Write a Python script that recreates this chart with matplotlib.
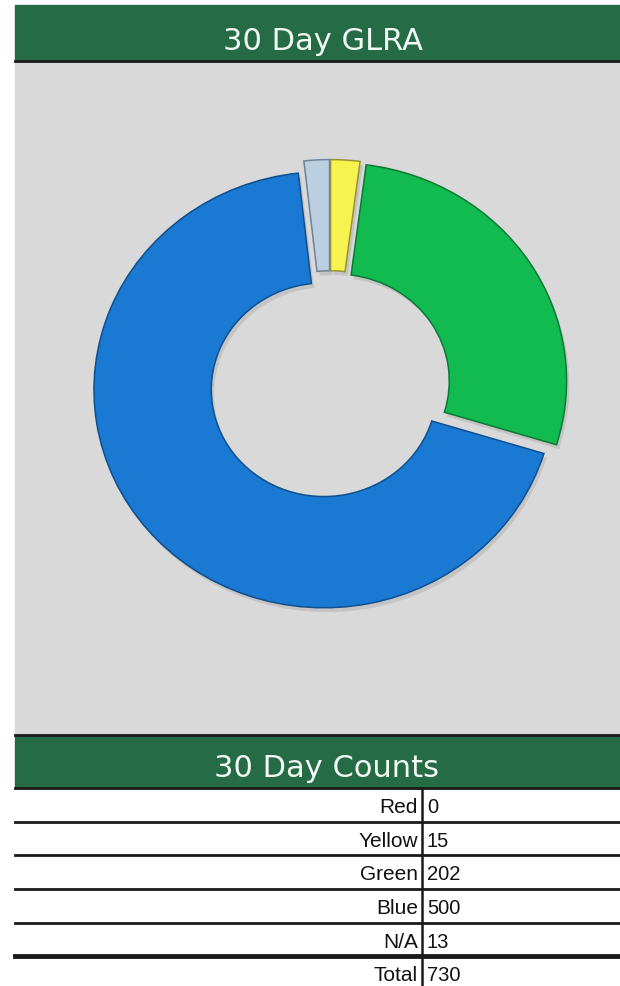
import matplotlib.pyplot as plt
from matplotlib.patches import Rectangle

# counts shown in the table and in the donut
labels = ['Red', 'Yellow', 'Green', 'Blue', 'N/A']
counts = [0, 15, 202, 500, 13]
total = 730
slice_colors = {'Red': '#d83a2e', 'Yellow': '#f6f24e', 'Green': '#12bb50',
                'Blue': '#1a79d2', 'N/A': '#bccfe0'}
edge_colors = {'Red': '#8a1f18', 'Yellow': '#9a9430', 'Green': '#0b7a34',
               'Blue': '#0f4f8e', 'N/A': '#6f8399'}

W, H = 620, 986
fig = plt.figure(figsize=(W / 100, H / 100), dpi=100)
fig.patch.set_facecolor('white')

# background axes in pixel coordinates
bg = fig.add_axes([0, 0, 1, 1])
bg.set_xlim(0, W)
bg.set_ylim(H, 0)
bg.axis('off')

bar_green = '#256b46'
title_col = '#f2faf4'
left = 15

# top title bar
bg.add_patch(Rectangle((left, 5), W - left, 56, color=bar_green, zorder=1))
bg.plot([left, W], [61, 61], color='#1a1a1a', lw=2, zorder=2)
bg.text(323, 50, '30 Day GLRA', color=title_col, fontsize=22,
        ha='center', va='baseline', family='DejaVu Sans', zorder=3)

# gray chart area
bg.add_patch(Rectangle((left, 62), W - left, 672, color='#d9d9d9', zorder=1))
bg.plot([left, W], [735, 735], color='#1a1a1a', lw=2, zorder=2)

# second title bar
bg.add_patch(Rectangle((left, 736), W - left, 52, color=bar_green, zorder=1))
bg.text(326, 777, '30 Day Counts', color=title_col, fontsize=22,
        ha='center', va='baseline', family='DejaVu Sans', zorder=3)
bg.plot([left, W], [788, 788], color='#1a1a1a', lw=2, zorder=2)

# table rows
row_tops = [788, 822, 855, 889, 923, 956]
divider_x = 422
table_labels = labels + ['Total']
table_values = counts + [total]
tfont = ['Liberation Sans', 'DejaVu Sans']
for i, (lab, val) in enumerate(zip(table_labels, table_values)):
    y0 = row_tops[i]
    base = y0 + 25
    bg.text(divider_x - 4, base, lab, ha='right', va='baseline', fontsize=15,
            family=tfont, color='#111111')
    bg.text(divider_x + 5, base, str(val), ha='left', va='baseline', fontsize=14.5,
            family=tfont, color='#111111')
    if i > 0:
        lw = 3.5 if lab == 'Total' else 2
        bg.plot([left, W], [y0, y0], color='#1a1a1a', lw=lw, zorder=2)
bg.plot([divider_x, divider_x], [788, H], color='#1a1a1a', lw=1.8, zorder=2)

# donut chart (picture is slightly stretched horizontally)
cx, cy, rx, ry = 330, 385, 230, 218
ax = fig.add_axes([(cx - 1.2 * rx) / W, (H - cy - 1.2 * ry) / H,
                   2.4 * rx / W, 2.4 * ry / H])

pie_labels = [l for l, c in zip(labels, counts) if c > 0]
pie_counts = [c for c in counts if c > 0]
pie_colors = [slice_colors[l] for l in pie_labels]
explode = [0.034] * len(pie_counts)

# soft shadow
ax.pie(pie_counts, startangle=90, counterclock=False, radius=1.0,
       colors=['#c4c4c4'] * len(pie_counts), explode=explode,
       center=(0.012, -0.02), wedgeprops=dict(width=0.51, linewidth=0))
wedges, _ = ax.pie(pie_counts, startangle=90, counterclock=False, radius=1.0,
                   colors=pie_colors, explode=explode,
                   wedgeprops=dict(width=0.51, linewidth=1.1))
for w, l in zip(wedges, pie_labels):
    w.set_edgecolor(edge_colors[l])
ax.set_aspect('auto')
ax.set_xlim(-1.2, 1.2)
ax.set_ylim(-1.2, 1.2)
ax.axis('off')

fig.savefig('out.png', dpi=100)
